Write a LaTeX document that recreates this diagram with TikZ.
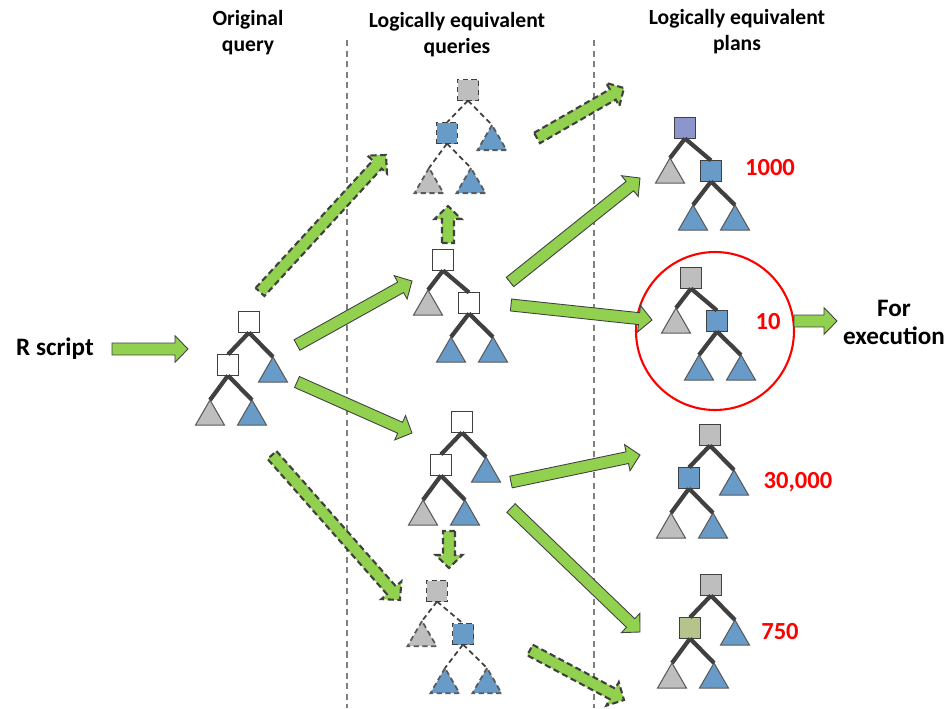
\documentclass[tikz,border=0pt]{standalone}
\usepackage{fontspec}
\setmainfont{Carlito}
\usepackage{tikz}
\usetikzlibrary{calc,shapes.geometric}

\definecolor{arrowgreen}{RGB}{146,208,80}
\definecolor{edgegray}{RGB}{64,64,64}
\definecolor{trigray}{RGB}{90,90,90}
\definecolor{leafblue}{RGB}{105,155,200}
\definecolor{leafgray}{RGB}{190,190,190}
\definecolor{nodegray}{RGB}{190,190,190}
\definecolor{rootpurple}{RGB}{140,150,205}
\definecolor{olive}{RGB}{181,196,138}

\tikzset{
  sq/.style={draw=edgegray, line width=1pt, minimum size=0.42cm, inner sep=0pt, outer sep=0pt},
  tri/.style={regular polygon, regular polygon sides=3, draw=trigray, line width=0.6pt,
    minimum size=0.67cm, inner sep=0pt, outer sep=0pt, anchor=corner 1},
  branch/.style={line width=2.4pt, draw=edgegray},
  dsh/.style={dashed, dash pattern=on 3pt off 2pt, line width=1pt},
  garrowline/.style={fill=arrowgreen, draw=edgegray, line width=0.5pt, line join=miter},
  dgarrow/.style={dashed, dash pattern=on 3.5pt off 2pt, line width=1.2pt},
  hdr/.style={align=center, font=\fontsize{12.3}{14.7}\selectfont\bfseries},
  lbl/.style={align=center, font=\fontsize{14.3}{16}\selectfont\bfseries},
  cost/.style={text=red, font=\fontsize{14}{16}\selectfont\bfseries},
  divider/.style={draw=gray, dashed, dash pattern=on 3.5pt off 2.5pt, line width=0.8pt}
}

% tree with the inner node on the left
\newcommand{\ltree}[8]{%
  \begin{scope}[shift={#2}]
    \node[sq, fill=#4, #3] (#1r) at (0,0) {};
    \node[sq, fill=#5, #3] (#1m) at (-21,43) {};
    \node[tri, fill=#6, #3] (#1s) at (24,35) {};
    \node[tri, fill=#7, #3] (#1a) at (-39,78) {};
    \node[tri, fill=#8, #3] (#1b) at (3,78) {};
  \end{scope}
  \draw[branch, #3] (#1r.south) -- (#1m.north) (#1r.south) -- (#1s.corner 1)
    (#1m.south) -- (#1a.corner 1) (#1m.south) -- (#1b.corner 1);}

% tree with the inner node on the right
\newcommand{\rtree}[8]{%
  \begin{scope}[shift={#2}]
    \node[sq, fill=#4, #3] (#1r) at (0,0) {};
    \node[sq, fill=#5, #3] (#1m) at (26,43) {};
    \node[tri, fill=#6, #3] (#1s) at (-15,30) {};
    \node[tri, fill=#7, #3] (#1a) at (8,77) {};
    \node[tri, fill=#8, #3] (#1b) at (50,77) {};
  \end{scope}
  \draw[branch, #3] (#1r.south) -- (#1m.north) (#1r.south) -- (#1s.corner 1)
    (#1m.south) -- (#1a.corner 1) (#1m.south) -- (#1b.corner 1);}

% fat green arrow from #2 to #3
\newcommand{\garrow}[3][]{%
  \coordinate (ghd) at ($(#3)!7.4pt!(#2)$);
  \draw[garrowline, #1] ($(#2)!3.4pt!90:(#3)$) -- ($(ghd)!3.4pt!90:(#3)$)
    -- ($(ghd)!7.6pt!90:(#3)$) -- (#3) -- ($(ghd)!7.6pt!-90:(#3)$)
    -- ($(ghd)!3.4pt!-90:(#3)$) -- ($(#2)!3.4pt!-90:(#3)$) -- cycle;}

\begin{document}
\begin{tikzpicture}[x=0.02cm, y=-0.02cm]
  \useasboundingbox (0,0) rectangle (948,708);

  % column separators
  \draw[divider] (347,40) -- (347,708);
  \draw[divider] (594,40) -- (594,708);

  % headings
  \node[hdr] (horig) at (248,33) {Original\\query};
  \node[hdr] (hquery) at (457,35) {Logically equivalent\\queries};
  \node[hdr] (hplan) at (737,32) {Logically equivalent\\plans};
  \node[lbl] (rscript) at (55,349) {R script};
  \node[lbl] (forexec) at (894,322) {For\\execution};

  % trees
  \ltree{a}{(249,322)}{}{white}{white}{leafblue}{leafgray}{leafblue}
  \ltree{b}{(468,90)}{dsh}{nodegray}{leafblue}{leafblue}{leafgray}{leafblue}
  \rtree{c}{(443,260)}{}{white}{white}{leafgray}{leafblue}{leafblue}
  \ltree{d}{(462,422)}{}{white}{white}{leafblue}{leafgray}{leafblue}
  \rtree{e}{(437,591)}{dsh}{nodegray}{leafblue}{leafgray}{leafblue}{leafblue}
  \rtree{f}{(685,128)}{}{rootpurple}{leafblue}{leafgray}{leafblue}{leafblue}
  \rtree{g}{(691,278)}{}{nodegray}{leafblue}{leafgray}{leafblue}{leafblue}
  \ltree{h}{(710,435)}{}{nodegray}{leafblue}{leafblue}{leafgray}{leafblue}
  \ltree{i}{(711,585)}{}{nodegray}{olive}{leafblue}{leafgray}{leafblue}

  % costs
  \node[cost] (cf) at (770,168) {1000};
  \node[cost] (cg) at (768,322) {10};
  \node[cost] (ch) at (798,482) {30,000};
  \node[cost] (ci) at (780,632) {750};
  \node[draw=red, circle, line width=1.2pt, minimum size=3.16cm] (chosen) at (715,331) {};

  % arrow ends
  \coordinate (r0) at (112,349);  \coordinate (r1) at (188,349);
  \coordinate (ac0) at (297,345); \coordinate (ac1) at (412,281);
  \coordinate (ad0) at (297,382); \coordinate (ad1) at (412,433);
  \coordinate (ab0) at (260,292); \coordinate (ab1) at (386,155);
  \coordinate (ae0) at (272,455); \coordinate (ae1) at (400,600);
  \coordinate (cb0) at (448,243); \coordinate (cb1) at (448,206);
  \coordinate (de0) at (449,531); \coordinate (de1) at (449,568);
  \coordinate (bx0) at (537,138); \coordinate (bx1) at (624,88);
  \coordinate (cf0) at (510,282); \coordinate (cf1) at (640,178);
  \coordinate (cg0) at (511,305); \coordinate (cg1) at (652,320);
  \coordinate (dh0) at (511,482); \coordinate (dh1) at (640,455);
  \coordinate (di0) at (511,508); \coordinate (di1) at (640,632);
  \coordinate (ex0) at (530,650); \coordinate (ex1) at (624,700);
  \coordinate (go0) at (794,321); \coordinate (go1) at (837,321);

  \garrow{r0}{r1}
  \garrow{ac0}{ac1}
  \garrow{ad0}{ad1}
  \garrow[dgarrow]{ab0}{ab1}
  \garrow[dgarrow]{ae0}{ae1}
  \garrow[dgarrow]{cb0}{cb1}
  \garrow[dgarrow]{de0}{de1}
  \garrow[dgarrow]{bx0}{bx1}
  \garrow{cf0}{cf1}
  \garrow{cg0}{cg1}
  \garrow{dh0}{dh1}
  \garrow{di0}{di1}
  \garrow[dgarrow]{ex0}{ex1}
  \garrow{go0}{go1}
\end{tikzpicture}
\end{document}
